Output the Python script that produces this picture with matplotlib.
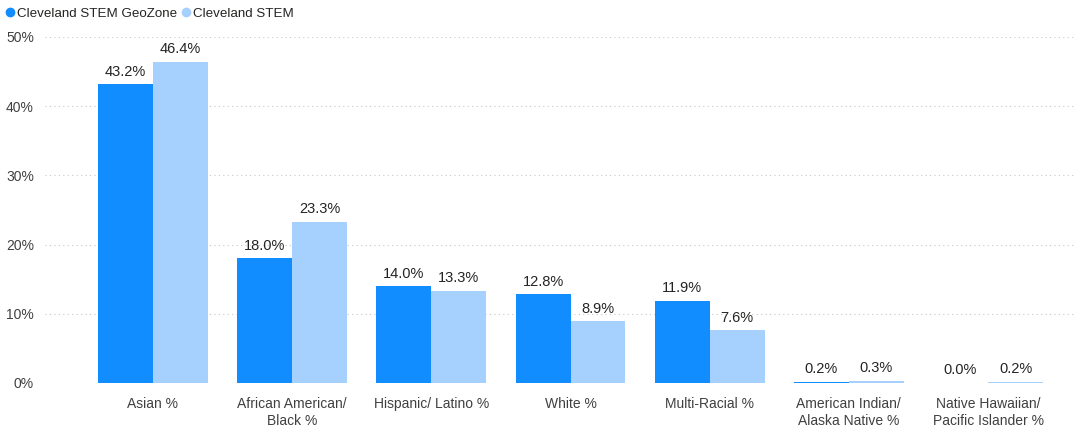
import matplotlib
matplotlib.use('Agg')
import matplotlib.pyplot as plt
import numpy as np

plt.rcParams['font.family'] = ['Liberation Sans', 'DejaVu Sans']

categories = ['Asian %', 'African American/\nBlack %', 'Hispanic/ Latino %', 'White %',
              'Multi-Racial %', 'American Indian/\nAlaska Native %',
              'Native Hawaiian/\nPacific Islander %']
geozone = [43.2, 18.0, 14.0, 12.8, 11.9, 0.2, 0.0]
stem = [46.4, 23.3, 13.3, 8.9, 7.6, 0.3, 0.2]
series_names = ['Cleveland STEM GeoZone', 'Cleveland STEM']
colors = ['#118DFF', '#A6D1FF']

fig = plt.figure(figsize=(10.81, 4.30), dpi=100)
ax = fig.add_axes([45 / 1081, 1 - 383 / 430, 1030 / 1081, 346 / 430])

x = np.arange(len(categories))
w = 0.395
for i, (vals, c) in enumerate(zip([geozone, stem], colors)):
    pos = x + (i - 0.5) * w
    ax.bar(pos, vals, width=w, color=c, label=series_names[i])
    for p, v in zip(pos, vals):
        ax.text(p, v + 0.8, '%.1f%%' % v, ha='center', va='bottom',
                fontsize=10.5, color='#252423')

ax.set_xlim(-0.776, 6.625)
ax.set_ylim(0, 50)
ax.set_yticks([0, 10, 20, 30, 40, 50])
ax.set_yticklabels(['%d%%' % t for t in [0, 10, 20, 30, 40, 50]])
ax.yaxis.grid(True, linestyle=(0, (1, 3)), color='#C8C8C8', linewidth=0.8)
ax.set_axisbelow(True)
ax.set_xticks(x)
ax.set_xticklabels(categories, linespacing=1.25)
ax.tick_params(axis='both', length=0, labelsize=10, colors='#404040')
ax.tick_params(axis='x', pad=10)
ax.tick_params(axis='y', pad=8)
for s in ax.spines.values():
    s.set_visible(False)

handles = [plt.Line2D([], [], marker='o', linestyle='', color=c, markersize=6) for c in colors]
fig.legend(handles, series_names, loc='upper left', bbox_to_anchor=(-0.008, 1.01),
           ncol=2, frameon=False, fontsize=9.6, handletextpad=0.0,
           columnspacing=0.2, handlelength=1.0, labelcolor='#252423')

fig.savefig('out.png', dpi=100)
